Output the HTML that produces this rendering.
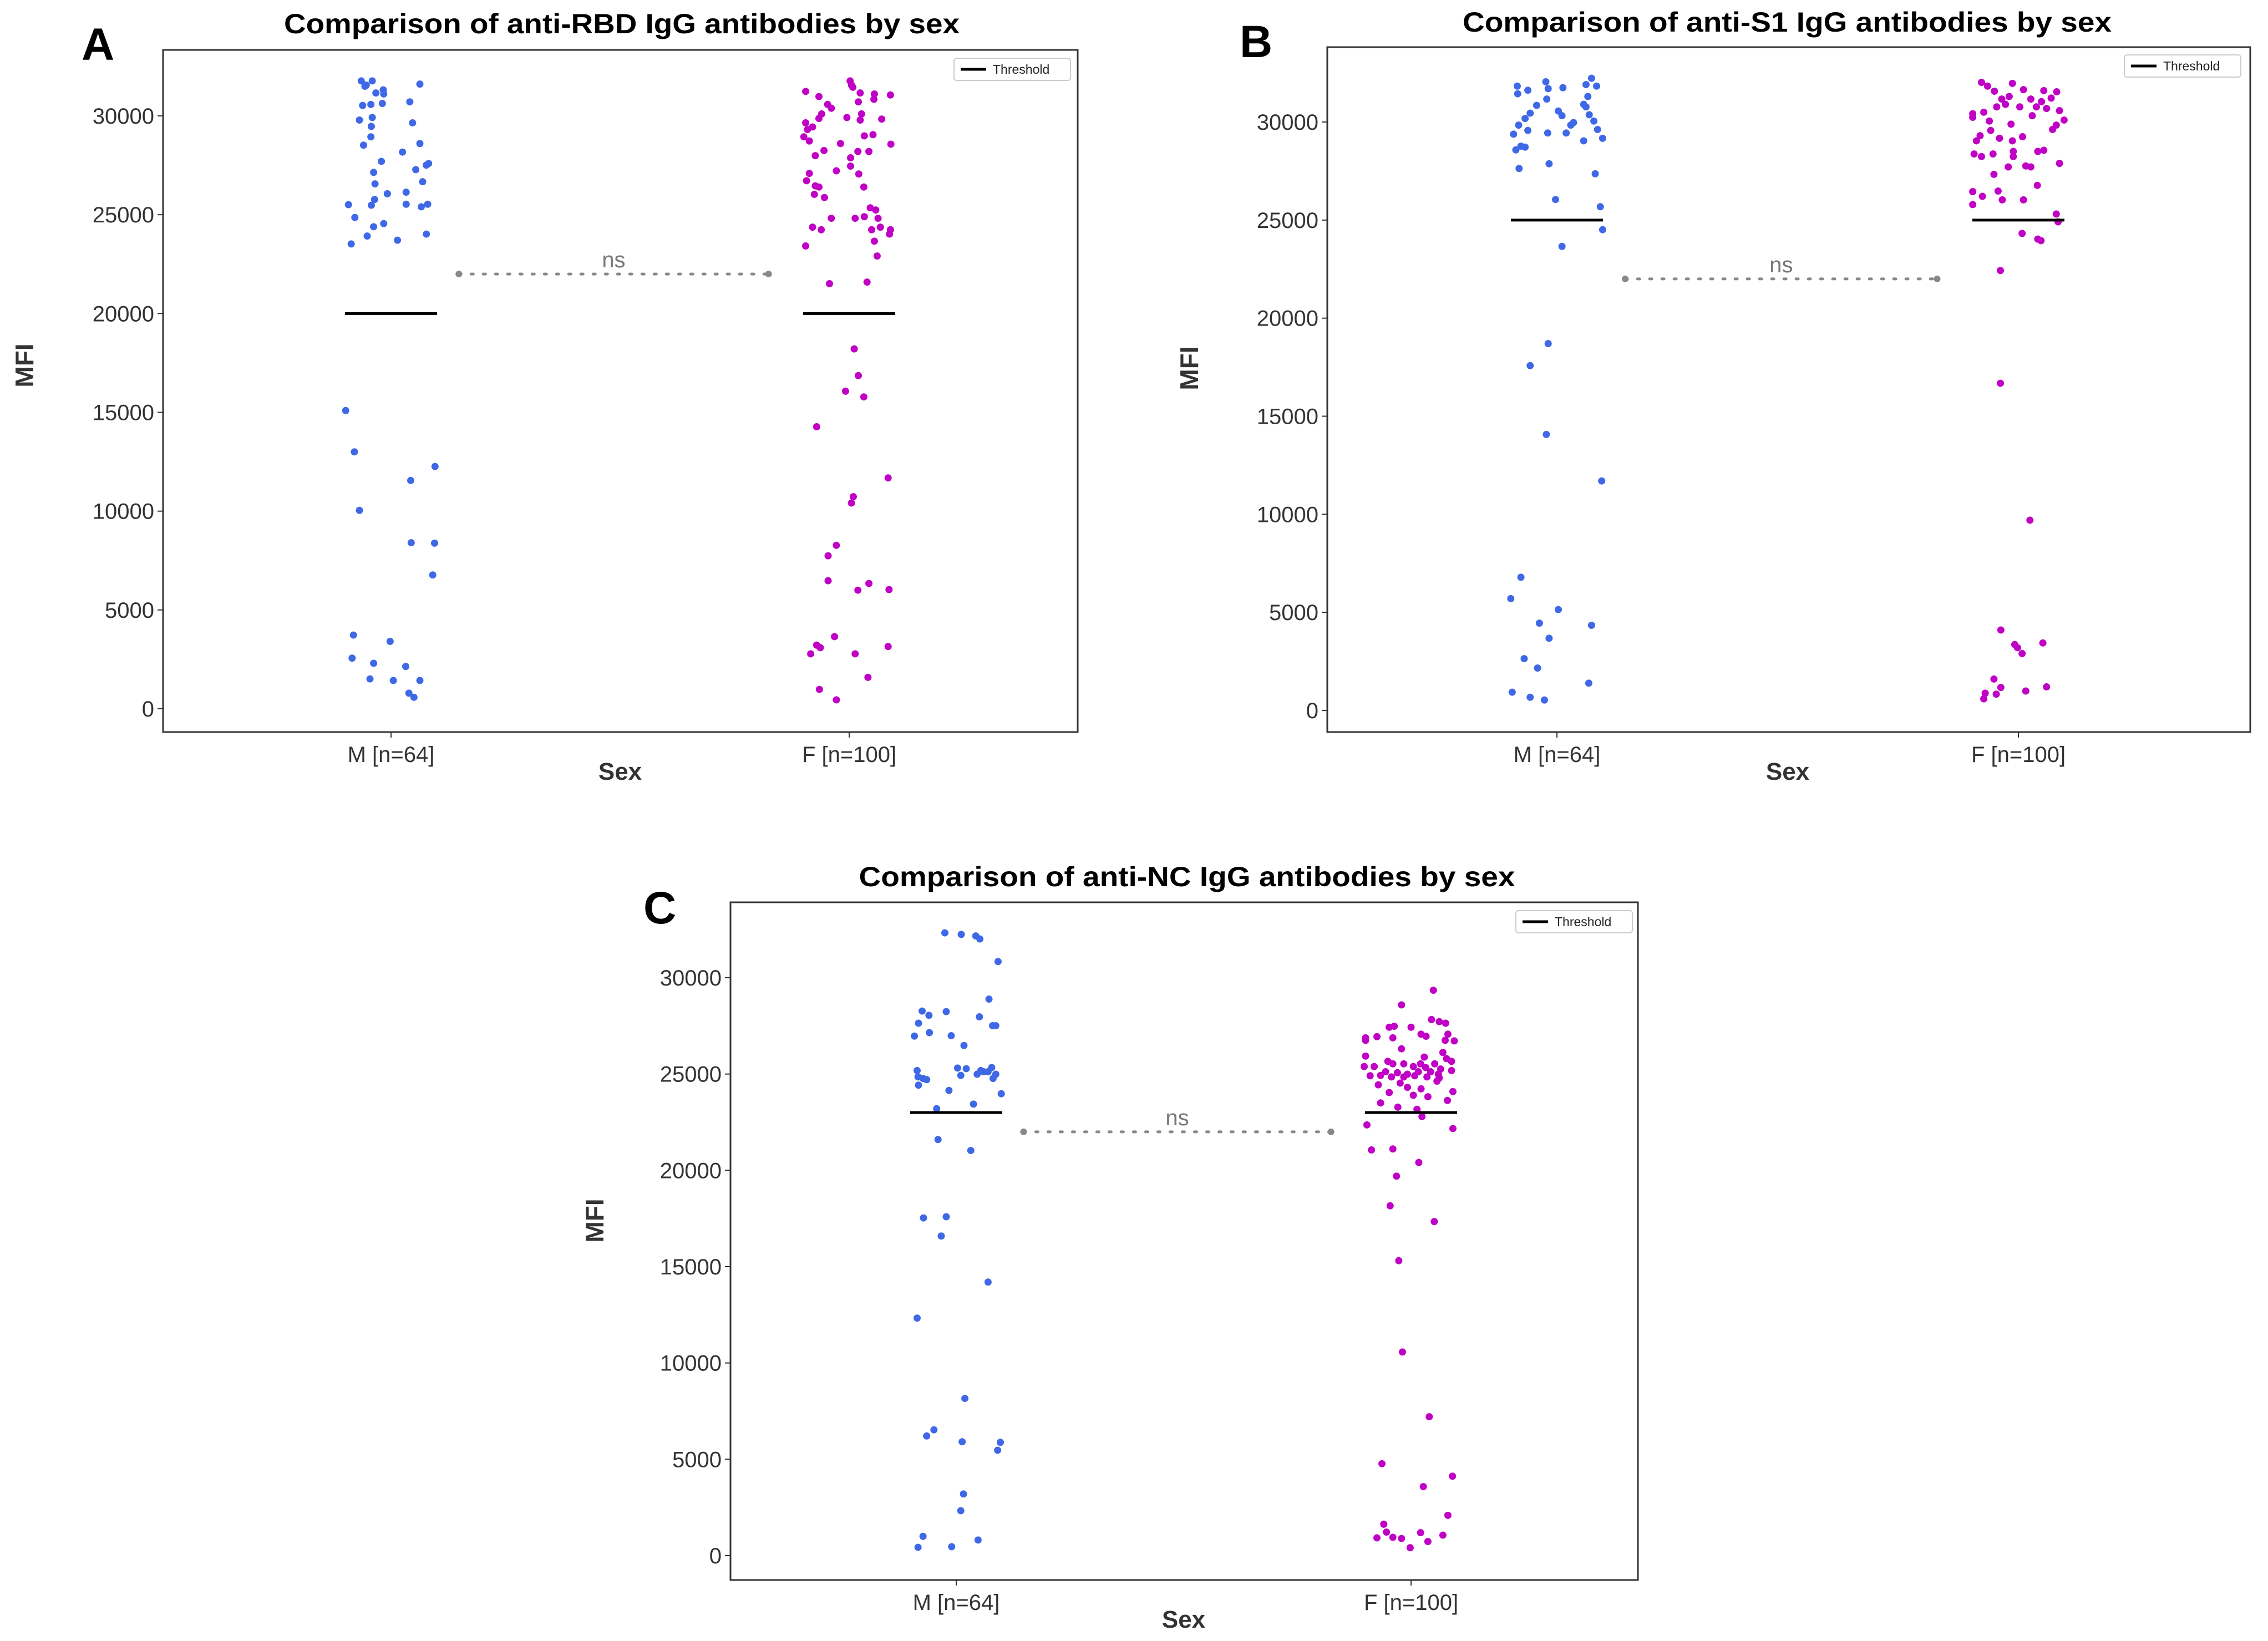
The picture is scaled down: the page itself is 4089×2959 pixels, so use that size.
<!DOCTYPE html>
<html><head><meta charset="utf-8"><style>
html,body{margin:0;padding:0;background:#fff;}
svg{display:block;font-family:"Liberation Sans",sans-serif;}
</style></head><body>
<svg id="fig" xmlns="http://www.w3.org/2000/svg" width="4089" height="2959" viewBox="0 0 4089 2959">
<rect x="0" y="0" width="4089" height="2959" fill="#fff"/>
</svg>
<script>
// ---------- data: [jitter (category units), MFI] ----------
const categories = ["M [n=64]", "F [n=100]"];
const yTicks = [0, 5000, 10000, 15000, 20000, 25000, 30000];
const thresholds = [20000, 25000, 23000];
const nsLevel = [22000, 22000, 22000];
const titles = ["Comparison of anti-RBD IgG antibodies by sex","Comparison of anti-S1 IgG antibodies by sex","Comparison of anti-NC IgG antibodies by sex"];
const panelLetters = ["A","B","C"];

const rbdM = [[-.065,31770],[-.054,31560],[-.041,31770],[-.057,31500],[-.033,31160],[-.017,31320],[-.016,31110],[-.062,30530],[-.044,30580],[-.019,30630],[.063,31610],[.041,30710],[-.069,29790],[-.041,29920],[-.043,29470],[.047,29650],[-.044,28940],[-.06,28520],[.063,28600],[.025,28170],[-.021,27700],[-.038,27140],[-.035,26560],[.082,27590],[.077,27510],[.054,27280],[.069,26670],[-.008,26060],[.033,26140],[-.036,25770],[-.043,25480],[-.093,25510],[.033,25530],[.066,25400],[.08,25530],[-.079,24860],[-.016,24550],[-.038,24390],[-.052,23920],[.014,23710],[.077,24020],[-.087,23520],
[-.099,15090],[-.08,13000],[-.069,10040],[.043,11550],[.096,12260],[.044,8400],[.095,8380],[.091,6770],[-.082,3730],[-.002,3410],[-.085,2560],[-.038,2300],[.032,2140],[-.046,1510],[.005,1430],[.063,1430],[.039,790],[.05,580]];
const rbdF = [[.002,31770],[.005,31560],[.008,31450],[-.095,31240],[-.066,30980],[.024,31160],[.055,31110],[.054,30840],[.09,31060],[-.047,30580],[-.039,30390],[.02,30710],[-.005,29920],[.027,30100],[.024,29790],[.071,29840],[-.06,30100],[-.066,29870],[-.095,29650],[-.08,29440],[-.099,28940],[-.091,29310],[-.087,28730],[-.055,28250],[-.074,27990],[-.019,28600],[.003,27880],[.019,28200],[.043,28200],[.033,28990],[.052,29050],[.091,28570],[.003,27460],[-.028,27220],[.021,27060],[-.087,27090],[-.093,26720],[-.074,26460],[-.066,26400],[-.076,26030],[-.054,25870],[.032,26400],[.046,25350],[.058,25240],[.033,24900],[.013,24820],[.063,24820],[-.039,24820],[-.08,24370],[-.061,24240],[.068,24370],[.049,24240],[.09,24240],[.088,24020],[.055,23660],[-.095,23420],[.061,22910],[-.043,21510],[.039,21590],
[.011,18210],[.02,16860],[-.008,16070],[.032,15780],[-.071,14270],[.085,11680],[.009,10730],[.005,10410],[-.028,8270],[-.046,7740],[-.046,6480],[.043,6340],[.019,6000],[.087,6030],[-.032,3650],[-.071,3220],[-.063,3090],[.085,3150],[-.084,2780],[.013,2780],[.041,1590],[-.065,980],[-.028,450]];
const s1M = [[-.086,31830],[-.085,31440],[-.063,31620],[-.024,32050],[-.019,31700],[-.022,31170],[.013,31750],[.063,31910],[.086,31830],[.075,32230],[.067,31300],[.058,30900],[.063,30770],[-.044,30850],[-.058,30450],[-.069,30180],[-.083,29840],[-.063,29570],[-.094,29380],[-.02,29440],[.003,30560],[.011,30320],[.02,29440],[.03,29840],[.036,29970],[.07,30370],[.08,30050],[.088,29620],[.099,29170],[.058,29040],[-.078,28770],[-.069,28720],[-.089,28580],[-.082,27630],[-.017,27870],[.083,27360],[-.003,26050],[.094,25680],[.099,24510],[.011,23660],
[-.019,18700],[-.058,17580],[-.023,14070],[.097,11700],[-.078,6790],[-.1,5700],[.003,5140],[-.038,4450],[.075,4340],[-.017,3680],[-.071,2640],[-.042,2160],[.069,1390],[-.097,930],[-.058,670],[-.027,530]];
const s1F = [[-.08,32020],[-.067,31830],[-.052,31570],[-.013,31970],[.011,31650],[.055,31600],[.083,31540],[-.036,31170],[-.02,31300],[.027,31170],[.071,31220],[-.099,30420],[-.075,30500],[-.047,30770],[-.028,30900],[.003,30770],[.039,30770],[.061,30690],[.089,30580],[.099,30100],[.082,29840],[-.063,30050],[-.099,30240],[-.016,29890],[.03,30320],[.05,31040],[-.083,29300],[-.091,29040],[-.06,29570],[-.041,29170],[-.013,29040],[.009,29250],[.074,29620],[-.096,28370],[-.08,28240],[-.055,28370],[-.011,28500],[-.011,28240],[.055,28560],[.042,28500],[-.022,27710],[.016,27760],[.027,27710],[.089,27890],[-.053,27330],[-.099,26450],[-.078,26210],[-.044,26480],[-.035,26030],[.011,26030],[.041,26770],[-.099,25790],[.082,25310],[.086,24910],[.008,24320],[.042,24030],[.049,23950],[-.039,22430],
[-.039,16680],[.025,9700],[-.038,4100],[-.008,3360],[-.002,3200],[.008,2900],[.053,3440],[-.053,1600],[-.072,880],[-.048,830],[-.038,1170],[-.075,590],[.016,990],[.061,1200]];
const ncM = [[-.025,32330],[.011,32250],[.043,32170],[.052,32010],[.092,30840],[.072,28890],[-.075,28270],[-.06,28050],[-.022,28240],[-.083,27640],[.051,27970],[.08,27510],[.087,27510],[-.059,27150],[-.011,26990],[-.092,26970],[.017,26480],[-.086,25180],[-.073,24770],[-.084,24850],[-.065,24710],[-.083,24420],[.003,25310],[.022,25280],[.01,24930],[.046,24990],[.06,25120],[.07,25120],[.078,25340],[.081,24770],[.087,24990],[.054,25180],[-.016,24150],[.099,23980],[-.043,23200],[.038,23440],
[-.04,21600],[.032,21030],[-.072,17530],[-.022,17590],[-.033,16590],[.07,14200],[-.086,12330],[.019,8160],[-.049,6530],[-.065,6210],[.013,5910],[.097,5880],[.091,5470],[.016,3200],[.01,2330],[-.073,1000],[-.084,430],[-.01,460],[.048,810]];
const ncF = [[.049,29350],[-.021,28590],[.045,27830],[.062,27720],[.076,27640],[-.048,27430],[-.037,27480],[0,27430],[.022,27070],[-.04,26880],[-.075,26940],[-.1,26880],[-.1,26750],[.033,26960],[.081,27070],[.075,26750],[.095,26720],[-.021,26310],[.07,26120],[-.1,25930],[.029,25880],[.078,25800],[-.051,25660],[-.04,25530],[.089,25660],[-.016,25530],[.021,25530],[.052,25530],[-.103,25390],[.005,25390],[.032,25340],[-.081,25390],[.065,25260],[-.056,25120],[-.03,25070],[-.008,24990],[.016,25120],[.043,25120],[.06,24990],[.089,25180],[-.09,24910],[-.067,24930],[-.043,24850],[-.016,24850],[.008,24910],[.035,24850],[.062,24800],[-.024,24530],[.057,24630],[-.072,24440],[-.008,24310],[.022,24230],[.092,24090],[-.048,24040],[.005,23900],[.037,23820],[.08,23630],[-.067,23500],[-.029,23280],[.013,23170],[.024,22790],[-.097,22360],[.092,22170],[-.087,21060],[-.04,21110],[.017,20410],[-.032,19700],[-.046,18160],[.051,17340],[-.027,15310],[-.019,10570],[.04,7210],[-.064,4770],[.091,4120],[.027,3580],[.081,2090],[-.06,1630],[-.054,1220],[-.075,920],[-.04,950],[-.021,890],[.021,1190],[.037,730],[.07,1060],[-.002,410]];

const seriesM = [rbdM, s1M, ncM];
const seriesF = [rbdF, s1F, ncF];

// ---------- layout ----------
const panels = [
 {x0:294,x1:1943,y0:90,y1:1320,zero:1278,top:209,xM:705,xF:1531,titleX:1121,titleY:60,titleW:1218,letterX:147,letterY:108,mfiX:60,mfiY:659,legX:1720,legY:105},
 {x0:2393,x1:4057,y0:85,y1:1320,zero:1281,top:220,xM:2807,xF:3639,titleX:3222,titleY:57,titleW:1170,letterX:2235,letterY:103,mfiX:2160,mfiY:664,legX:3830,legY:99},
 {x0:1317,x1:2953,y0:1627,y1:2849,zero:2805,top:1763,xM:1724,xF:2544,titleX:2140,titleY:1598,titleW:1183,letterX:1160,letterY:1665,mfiX:1088,mfiY:2201,legX:2733,legY:1642}
];
const NS = "http://www.w3.org/2000/svg";
const svg = document.getElementById('fig');
function mk(tag, attrs, parent, text){
  const e = document.createElementNS(NS, tag);
  for (const k in attrs) e.setAttribute(k, attrs[k]);
  if (text !== undefined) e.textContent = text;
  (parent||svg).appendChild(e);
  return e;
}

panels.forEach((p, i) => {
  const g = mk('g', {});
  
  
  const yScale = v => p.zero - v * (p.zero - p.top) / 30000;
  const xScale = (cat, j) => { const c = cat === 0 ? p.xM : p.xF; return c + j * (p.xF - p.xM); };

  const t = mk('text', {x:p.titleX, y:p.titleY, 'text-anchor':'middle', 'font-size':50, 'font-weight':'bold', fill:'#000', textLength:p.titleW, lengthAdjust:'spacingAndGlyphs'}, g, titles[i]);
  
  
  const L = mk('text', {x:p.letterX, y:p.letterY, 'font-size':82, 'font-weight':'bold', fill:'#000'}, g, panelLetters[i]);
  
  

  const box = mk('rect', {x:p.x0, y:p.y0, width:p.x1-p.x0, height:p.y1-p.y0, fill:'none', stroke:'#333', 'stroke-width':3}, g);
  
  

  yTicks.forEach(v => {
    const y = yScale(v);
    const tk = mk('line', {x1:p.x0-10, x2:p.x0, y1:y, y2:y, stroke:'#333', 'stroke-width':2}, g);
    
    
    const tl = mk('text', {x:p.x0-16, y:y+14, 'text-anchor':'end', 'font-size':40, fill:'#333'}, g, String(v));
    
    
  });
  categories.forEach((c, k) => {
    const x = k === 0 ? p.xM : p.xF;
    const tk = mk('line', {x1:x, x2:x, y1:p.y1, y2:p.y1+10, stroke:'#333', 'stroke-width':2}, g);
    
    
    const tl = mk('text', {x:x, y:p.y1+54, 'text-anchor':'middle', 'font-size':40, fill:'#333'}, g, c);
    
    
  });
  const xt = mk('text', {x:(p.xM+p.xF)/2, y:p.y1+86, 'text-anchor':'middle', 'font-size':44, 'font-weight':'bold', fill:'#333'}, g, 'Sex');
  
  
  const yt = mk('text', {x:p.mfiX, y:p.mfiY, 'text-anchor':'middle', 'font-size':46, 'font-weight':'bold', fill:'#333', transform:`rotate(-90 ${p.mfiX} ${p.mfiY})`}, g, 'MFI');
  
  

  // points
  [[seriesM[i], 0, '#3f68e6'], [seriesF[i], 1, '#c000c4']].forEach(([arr, cat, col]) => {
    arr.forEach(d => {
      const c = mk('circle', {cx:xScale(cat, d[0]), cy:yScale(d[1]), r:6.5, fill:col}, g);
      
      
    });
  });

  // thresholds
  [p.xM, p.xF].forEach(x => {
    const th = mk('line', {x1:x-83, x2:x+83, y1:yScale(thresholds[i]), y2:yScale(thresholds[i]), stroke:'#000', 'stroke-width':5}, g);
    
    
  });

  // ns bracket
  const nx1 = p.xM + 0.148*(p.xF-p.xM), nx2 = p.xF - 0.176*(p.xF-p.xM), ny = yScale(nsLevel[i]);
  const nl = mk('line', {x1:nx1, x2:nx2, y1:ny, y2:ny, stroke:'#888', 'stroke-width':5, 'stroke-dasharray':'4 18', 'stroke-linecap':'round'}, g);
  
  
  [nx1, nx2].forEach(x => {
    const e = mk('circle', {cx:x, cy:ny, r:6, fill:'#888'}, g);
    
    
  });
  const nt = mk('text', {x:(nx1+nx2)/2, y:ny-12, 'text-anchor':'middle', 'font-size':40, fill:'#777'}, g, 'ns');
  
  

  // legend
  const lg = mk('g', {}, g);
  
  
  mk('rect', {x:p.legX, y:p.legY, width:210, height:40, rx:5, fill:'#fff', stroke:'#ccc', 'stroke-width':2}, lg);
  mk('line', {x1:p.legX+12, x2:p.legX+58, y1:p.legY+20, y2:p.legY+20, stroke:'#000', 'stroke-width':5}, lg);
  const lt = mk('text', {x:p.legX+70, y:p.legY+28, 'font-size':23, fill:'#222'}, lg, 'Threshold');
  
  
});
</script>
</body></html>
